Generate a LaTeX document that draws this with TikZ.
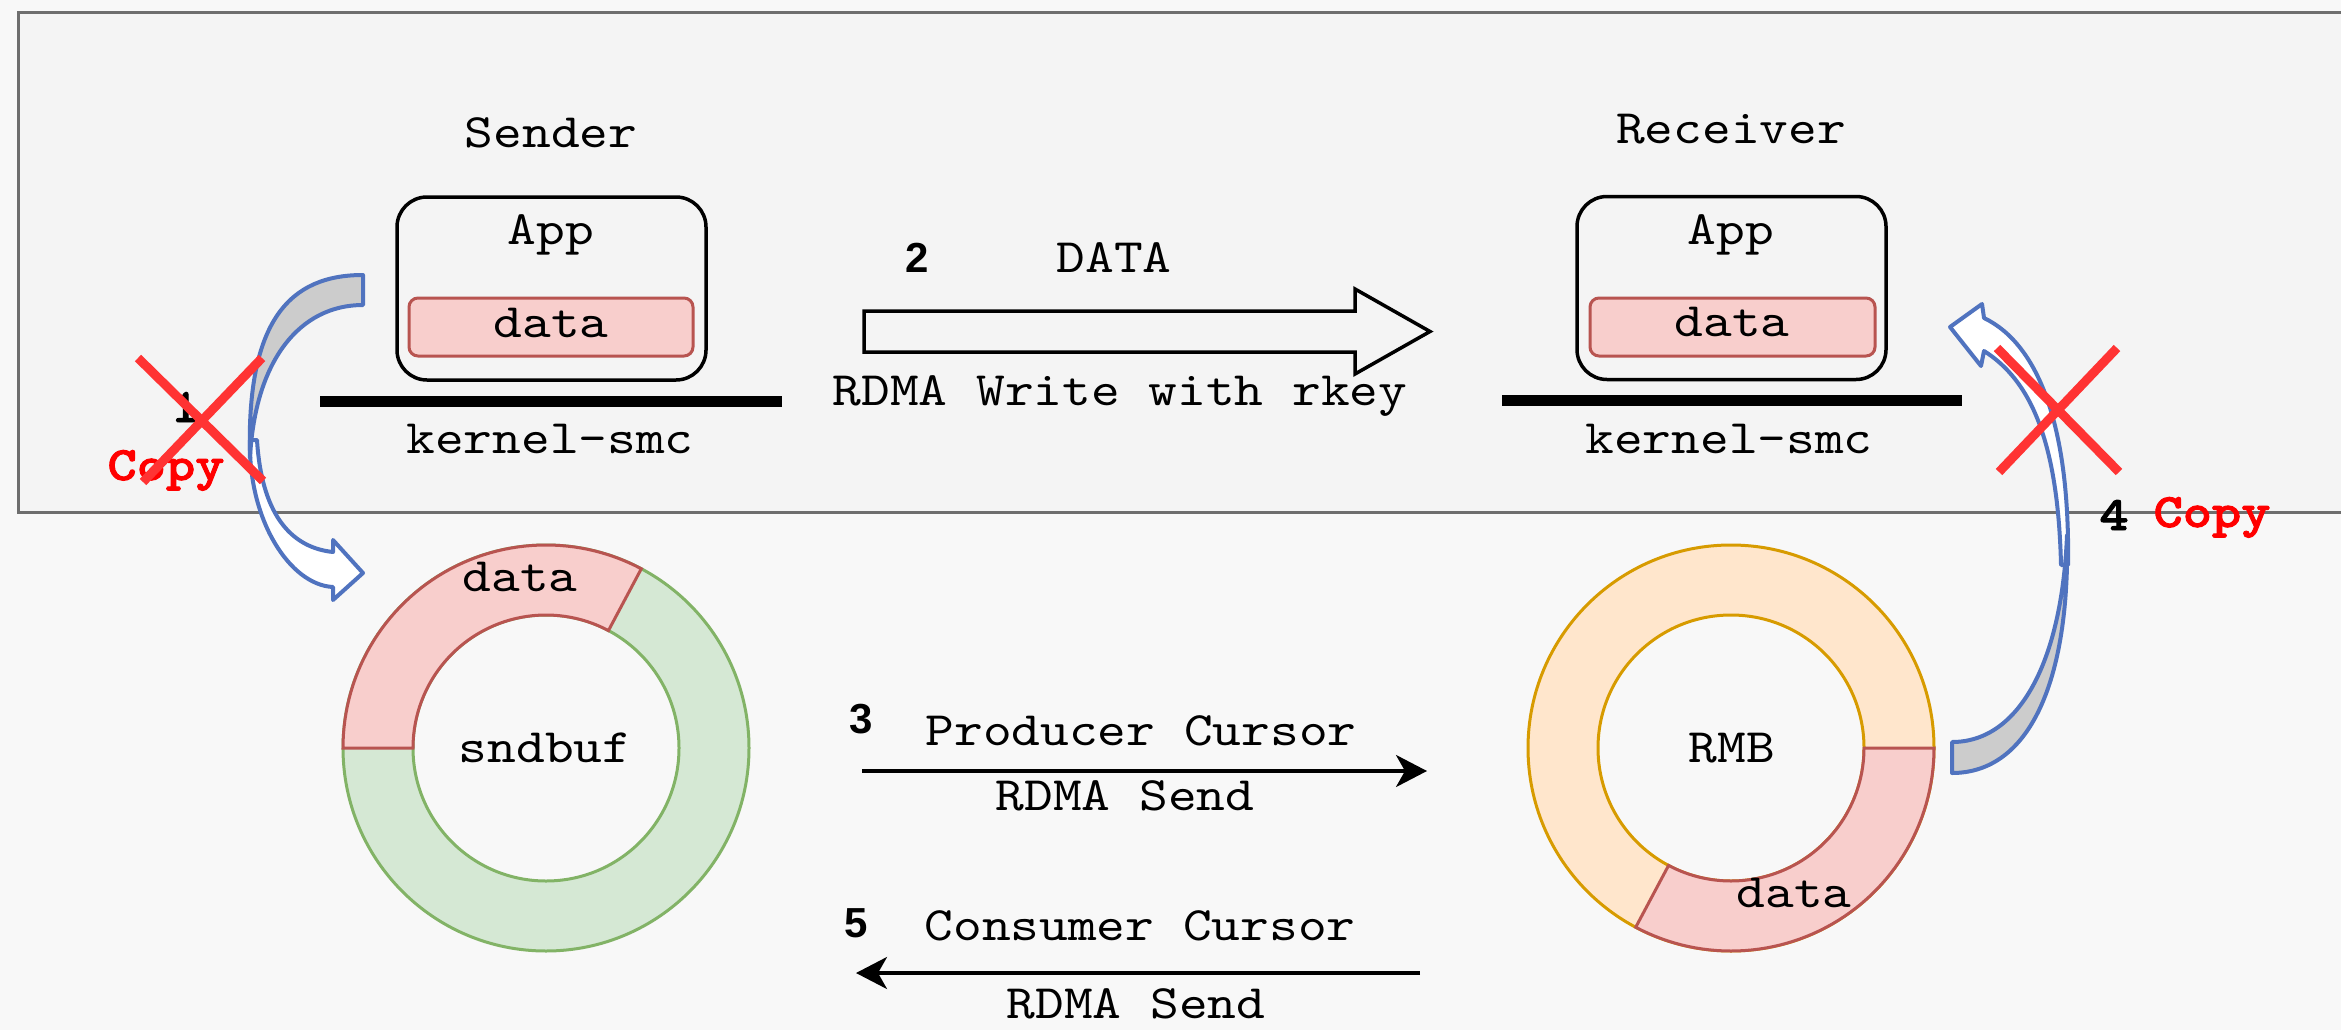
\documentclass[tikz,border=0pt]{standalone}
\usepackage{fontspec}
\setmainfont{lmmono10-regular.otf}[FakeStretch=1.14]
\newfontfamily\boldmono{lmmonolt10-bold.otf}[FakeStretch=1.16, FakeBold=2]
\newfontfamily\numfont{Liberation Sans}
\usetikzlibrary{arrows.meta}

\definecolor{pagebg}{HTML}{F8F8F8}
\definecolor{framebg}{HTML}{F4F4F4}
\definecolor{framegray}{HTML}{6E6E6E}
\definecolor{datafill}{HTML}{F8CECC}
\definecolor{datastroke}{HTML}{B85450}
\definecolor{greenfill}{HTML}{D5E8D4}
\definecolor{greenstroke}{HTML}{82B366}
\definecolor{orangefill}{HTML}{FFE6CC}
\definecolor{orangestroke}{HTML}{D79B00}
\definecolor{arrowblue}{HTML}{5073BF}
\definecolor{arrowgray}{HTML}{CCCCCC}
\definecolor{crossred}{HTML}{FF3333}
\definecolor{copyred}{HTML}{FF0000}

\begin{document}
\begin{tikzpicture}[x=1pt, y=-1pt,
  lbl/.style={font=\fontsize{48}{56}\selectfont, anchor=base, inner sep=0pt, text=black},
  steplbl/.style={font=\numfont\bfseries\fontsize{42}{50}\selectfont, anchor=base, inner sep=0pt},
  stepmono/.style={font=\boldmono\fontsize{48}{56}\selectfont, anchor=base, inner sep=0pt},
  copylbl/.style={font=\boldmono\fontsize{48}{56}\selectfont, anchor=base, inner sep=0pt, text=copyred},
  appbox/.style={draw=black, line width=3.5pt, rounded corners=30pt, minimum width=309pt, minimum height=183pt, inner sep=0pt},
  databox/.style={draw=datastroke, fill=datafill, line width=3pt, rounded corners=9pt, minimum width=284pt, minimum height=58pt, inner sep=0pt},
  kernelbar/.style={fill=black, minimum width=462pt, minimum height=11pt, inner sep=0pt},
  twist/.style={draw=arrowblue, line width=4pt, line join=round},
  cross/.style={draw=crossred, line width=9pt},
  ptr/.style={line width=3.5pt, -{Stealth[length=31pt, width=32pt, inset=9pt]}},
  ring/.style={line width=3pt},
]
\useasboundingbox (0,0) rectangle (2341,1030);
\clip (0,0) rectangle (2341,1030);
\fill[pagebg] (0,0) rectangle (2341,1030);

% host frame (open to the right)
\draw[draw=framegray, fill=framebg, line width=3pt] (18,13) rectangle (2400,512);

% ---- Sender side ----
\node[lbl] (sender) at (551,147) {Sender};
\node[appbox] (sapp) at (551.5,288.5) {};
\node[lbl] (sapplbl) at (551,244) {App};
\node[databox] (sdata) at (551,327) {};
\node[lbl] (sdatalbl) at (551,337) {data};
\node[kernelbar] (skernel) at (551,401.5) {};
\node[lbl] (skernellbl) at (550,453) {kernel-smc};

% ---- Receiver side ----
\node[lbl] (receiver) at (1731,143) {Receiver};
\node[appbox] (rapp) at (1731.5,288) {};
\node[lbl] (rapplbl) at (1731,244) {App};
\node[databox, minimum width=285pt] (rdata) at (1732.5,327) {};
\node[lbl] (rdatalbl) at (1732,336) {data};
\node[kernelbar, minimum width=460pt] (rkernel) at (1732,400) {};
\node[lbl] (rkernellbl) at (1729,453) {kernel-smc};

% ---- step 2: RDMA write (block arrow) ----
\node[steplbl] (n2) at (917,272) {2};
\node[lbl] (datalbl) at (1114,272) {DATA};
\coordinate (wtail) at (864,331.5);
\coordinate (whead) at (1430,331.5);
\draw[line width=3.5pt, line join=miter, fill=framebg]
  (wtail |- 0,311) -- (1355,311) -- (1355,289) -- (whead) -- (1355,374)
  -- (1355,352) -- (wtail |- 0,352) -- cycle;
\node[lbl] (writelbl) at (1120,405) {RDMA Write with rkey};

% ---- sndbuf ring ----
\filldraw[ring, draw=greenstroke, fill=greenfill] (546,748) circle[radius=203];
\filldraw[ring, draw=greenstroke, fill=pagebg] (546,748) circle[radius=133];
\filldraw[ring, draw=datastroke, fill=datafill]
  plot[domain=-180:-62, samples=60] ({546+203*cos(\x)},{748+203*sin(\x)})
  -- plot[domain=-62:-180, samples=60] ({546+133*cos(\x)},{748+133*sin(\x)}) -- cycle;
\node[lbl] (sndbuf) at (545,762) {sndbuf};
\node[lbl] (sndata) at (520,591) {data};

% ---- RMB ring ----
\filldraw[ring, draw=orangestroke, fill=orangefill] (1731,748) circle[radius=203];
\filldraw[ring, draw=orangestroke, fill=pagebg] (1731,748) circle[radius=133];
\filldraw[ring, draw=datastroke, fill=datafill]
  plot[domain=0:118, samples=60] ({1731+203*cos(\x)},{748+203*sin(\x)})
  -- plot[domain=118:0, samples=60] ({1731+133*cos(\x)},{748+133*sin(\x)}) -- cycle;
\node[lbl] (rmb) at (1732,762) {RMB};
\node[lbl] (rmbdata) at (1794,907) {data};

% ---- step 3 / step 5: cursor updates ----
\node[steplbl] (n3) at (861,733) {3};
\node[lbl] (prodlbl) at (1141,745) {Producer Cursor};
\coordinate (p3a) at (862,771);
\coordinate (p3b) at (1427,771);
\draw[ptr] (p3a) -- (p3b);
\node[lbl] (send3) at (1125,810) {RDMA Send};

\node[steplbl] (n5) at (856,937) {5};
\node[lbl] (conslbl) at (1140,940) {Consumer Cursor};
\coordinate (p5a) at (1420,973);
\coordinate (p5b) at (856,973);
\draw[ptr] (p5a) -- (p5b);
\node[lbl] (send5) at (1136,1018) {RDMA Send};

% ---- step 1: copy into sndbuf (crossed out) ----
\filldraw[twist, fill=white] (250,440) .. controls (248,520) and (290,585) .. (333,587)
  -- (333,600) -- (363,573) -- (333,540) -- (333,552)
  .. controls (295,548) and (262,520) .. (257,440) -- cycle;
\filldraw[twist, fill=arrowgray] (363,275) .. controls (290,275) and (246,320) .. (250,458)
  .. controls (255,360) and (300,305) .. (363,305) -- cycle;
\node[stepmono] (n1) at (185,422) {1};
\node[copylbl] (copy1) at (166,480) {Copy};
\draw[cross] (138,358) -- (263,481);
\draw[cross] (262,358) -- (143,482);

% ---- step 4: copy out of RMB (crossed out) ----
\filldraw[twist, fill=white] (2061,565) .. controls (2058,440) and (2030,380) .. (1984,351)
  -- (1981,366) -- (1950,327) -- (1982,304) -- (1984,318)
  .. controls (2040,345) and (2070,430) .. (2068,565) -- cycle;
\filldraw[twist, fill=arrowgray] (1952,773) .. controls (2030,773) and (2070,680) .. (2067,535)
  .. controls (2062,660) and (2020,742) .. (1952,742) -- cycle;
\node[stepmono] (n4) at (2114,530) {4};
\node[copylbl] (copy4) at (2212,527) {Copy};
\draw[cross] (1997,348) -- (2119,472);
\draw[cross] (2117,348) -- (1999,472);
\end{tikzpicture}
\end{document}
